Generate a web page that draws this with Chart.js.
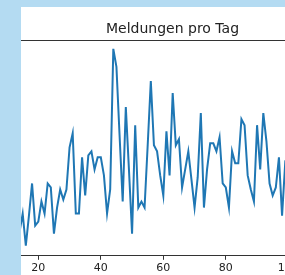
<!DOCTYPE html>
<html>
<head>
<meta charset="utf-8">
<script src="https://cdn.jsdelivr.net/npm/chart.js@4"></script>
<style>
  html, body { margin: 0; padding: 0; }
  body { width: 285px; height: 275px; background: #b4dbf2; position: relative; overflow: hidden; }
  #panel { position: absolute; left: 21px; top: 7px; width: 264px; height: 268px; background: #fff; overflow: hidden; }
  #wrap { position: absolute; left: 0; top: 0; width: 303px; height: 270px; }
</style>
</head>
<body>
<div id="panel"><div id="wrap"><canvas id="grafico"></canvas></div></div>
<script>
// Tage (x) und Meldungen (y)
const tage = [14, 15, 16, 17, 18, 19, 20, 21, 22, 23, 24, 25, 26, 27, 28, 29, 30, 31, 32, 33,
  34, 35, 36, 37, 38, 39, 40, 41, 42, 43, 44, 45, 46, 47, 48, 49, 50, 51, 52, 53,
  54, 55, 56, 57, 58, 59, 60, 61, 62, 63, 64, 65, 66, 67, 68, 69, 70, 71, 72, 73,
  74, 75, 76, 77, 78, 79, 80, 81, 82, 83, 84, 85, 86, 87, 88, 89, 90, 91, 92, 93,
  94, 95, 96, 97, 98, 99, 100];
const meldungen = [32, 41, 25, 40, 56, 35, 37, 47, 41, 56, 54, 31, 44, 53, 48, 53, 74, 81, 41, 41,
  69, 50, 70, 72, 63, 69, 69, 60, 41, 53, 123, 114, 80, 47, 94, 63, 31, 85, 44, 47,
  44, 75, 107, 75, 72, 60, 50, 82, 60, 101, 75, 78, 54, 63, 72, 58, 44, 59, 91, 44,
  63, 76, 76, 72, 79, 56, 54, 44, 72, 66, 66, 88, 85, 60, 53, 47, 85, 63, 91, 77,
  56, 50, 54, 69, 40, 66, 63];
const xTicks = [20, 40, 60, 80, 100];
const titel = 'Meldungen pro Tag';

// obere Achsenlinie (Rahmen)
const obereLinie = {
  id: 'obereLinie',
  afterDraw(chart) {
    const { ctx, chartArea } = chart;
    ctx.save();
    ctx.strokeStyle = '#333';
    ctx.lineWidth = 1;
    ctx.beginPath();
    ctx.moveTo(chartArea.left, Math.round(chartArea.top) + 0.5);
    ctx.lineTo(chartArea.right, Math.round(chartArea.top) + 0.5);
    ctx.stroke();
    ctx.restore();
  }
};

const ctx = document.getElementById('grafico').getContext('2d');
new Chart(ctx, {
  type: 'line',
  data: {
    datasets: [{
      data: tage.map((t, i) => ({ x: t, y: meldungen[i] })),
      borderColor: '#1f77b4',
      borderWidth: 2,
      pointRadius: 0,
      tension: 0,
      fill: false
    }]
  },
  options: {
    responsive: true,
    maintainAspectRatio: false,
    animation: false,
    layout: { padding: 0 },
    plugins: {
      legend: { display: false },
      tooltip: { enabled: false },
      title: {
        display: true,
        text: titel,
        color: '#222',
        font: { family: 'DejaVu Sans', size: 14, weight: 'normal' },
        padding: { top: 14, bottom: 2 }
      }
    },
    scales: {
      x: {
        type: 'linear',
        min: 14.46,
        max: 111.42,
        afterBuildTicks: axis => { axis.ticks = xTicks.map(v => ({ value: v })); },
        grid: { drawOnChartArea: false, drawTicks: true, tickLength: 4, color: '#333' },
        border: { display: true, color: '#333', width: 1 },
        ticks: {
          color: '#222',
          padding: 2,
          maxRotation: 0,
          font: { family: 'DejaVu Sans', size: 11 }
        }
      },
      y: {
        display: false,
        min: 20,
        max: 127.5
      }
    }
  },
  plugins: [obereLinie]
});
</script>
</body>
</html>
